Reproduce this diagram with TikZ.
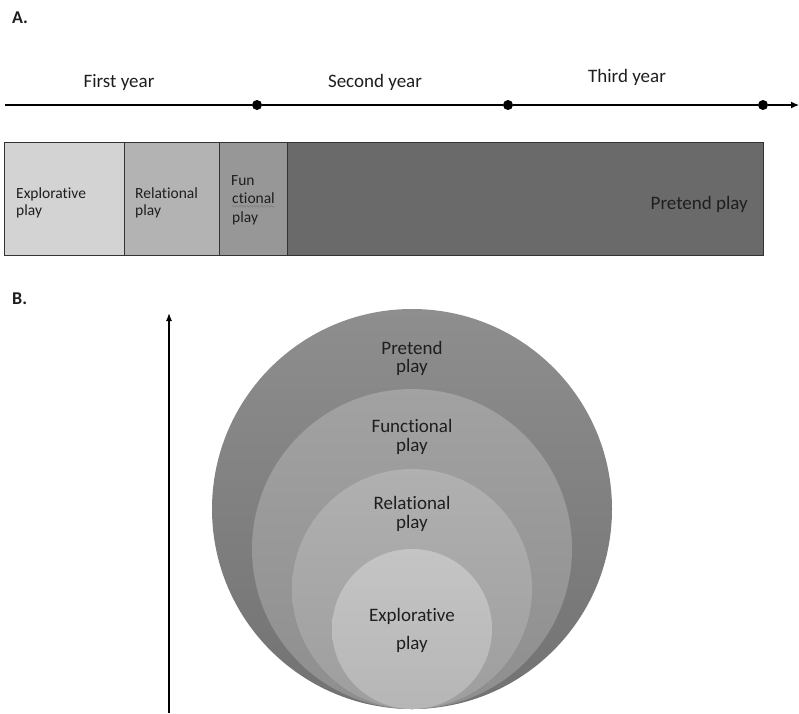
\documentclass[tikz,border=0pt]{standalone}
\usepackage{fontspec}
\setmainfont[Ligatures=NoCommon]{Carlito}
\usetikzlibrary{arrows.meta,decorations.pathmorphing}
\definecolor{textc}{HTML}{1E1E1E}
\definecolor{edgec}{HTML}{333333}
\definecolor{bxa}{HTML}{D3D3D3}
\definecolor{bxb}{HTML}{B3B3B3}
\definecolor{bxc}{HTML}{979797}
\definecolor{bxd}{HTML}{6A6A6A}
\definecolor{ra1}{HTML}{8E8E8E}
\definecolor{ra2}{HTML}{727272}
\definecolor{rb1}{HTML}{A2A2A2}
\definecolor{rb2}{HTML}{8E8E8E}
\definecolor{rc1}{HTML}{B0B0B0}
\definecolor{rc2}{HTML}{9E9E9E}
\definecolor{rd1}{HTML}{C4C4C4}
\definecolor{rd2}{HTML}{B6B6B6}
\begin{document}
\begin{tikzpicture}[x=1pt,y=-1pt,
  txt/.style={text=textc, inner sep=0pt, anchor=base west},
  lbl/.style={txt, font=\fontsize{19}{22}\selectfont},
  small/.style={txt, font=\fontsize{15.5}{18}\selectfont},
  heading/.style={txt, font=\bfseries\fontsize{18}{21}\selectfont},
  boxst/.style={draw=edgec, line width=1.3pt, anchor=north west, minimum height=113pt, inner sep=0pt},
  dot/.style={circle, fill=black, minimum size=10pt, inner sep=0pt},
  ring/.style={circle, inner sep=0pt, draw=none, shading angle=35},
  ctext/.style={txt, anchor=base, font=\fontsize{19}{22}\selectfont}]
\useasboundingbox (0,0) rectangle (799,713);
% headings
\node[heading] (A) at (12,23) {A.};
\node[heading] (B) at (12,304) {B.};
% timeline
\coordinate (t0) at (5,105);
\coordinate (tend) at (799,105);
\node[dot] (d1) at (257,105) {};
\node[dot] (d2) at (508,105) {};
\node[dot] (d3) at (763,105) {};
\draw[line width=1.2pt] (t0) -- (d1) -- (d2) -- (d3);
\draw[line width=1.2pt, -{Latex[length=8pt,width=7pt]}] (d3) -- (tend);
\node[lbl, anchor=base] (y1) at (119,87) {First year};
\node[lbl, anchor=base] (y2) at (375,87) {Second year};
\node[lbl, anchor=base] (y3) at (627,82) {Third year};
% boxes
\node[boxst, fill=bxa, minimum width=120pt] (b1) at (4,142) {};
\node[boxst, fill=bxb, minimum width=95pt] (b2) at (124,142) {};
\node[boxst, fill=bxc, minimum width=68pt] (b3) at (219,142) {};
\node[boxst, fill=bxd, minimum width=476pt] (b4) at (287,142) {};
\node[small] (l1a) at (16,198) {Explorative};
\node[small] (l1b) at (16,215) {play};
\node[small] (l2a) at (135,198) {Relational};
\node[small] (l2b) at (135,215) {play};
\node[small] (l3a) at (231,185) {Fun};
\node[small] (l3b) at (232,203) {ctional};
\node[small] (l3c) at (232,222) {play};
\draw[decorate, decoration={snake, amplitude=0.9pt, segment length=3.5pt}, color=gray, line width=0.6pt]
  ([yshift=-3pt]l3b.south west) -- ([yshift=-3pt]l3b.south east);
\node[lbl, anchor=base east] (l4) at (748,209) {Pretend play};
% vertical arrow
\coordinate (vb) at (169,713);
\coordinate (vt) at (169,313);
\draw[line width=1.2pt, -{Latex[length=8pt,width=6pt]}] (vb) -- (vt);
% circles
\node[ring, minimum size=400pt, top color=ra1, bottom color=ra2] (c1) at (412,509) {};
\node[ring, minimum size=320pt, top color=rb1, bottom color=rb2] (c2) at (412,549) {};
\node[ring, minimum size=240pt, top color=rc1, bottom color=rc2] (c3) at (412,589) {};
\node[ring, minimum size=160pt, top color=rd1, bottom color=rd2] (c4) at (412,629) {};
\node[ctext] (p1) at (412,354) {Pretend};
\node[ctext] (p2) at (412,372) {play};
\node[ctext] (f1) at (412,432) {Functional};
\node[ctext] (f2) at (412,451) {play};
\node[ctext] (r1) at (412,509) {Relational};
\node[ctext] (r2) at (412,528) {play};
\node[ctext] (e1) at (412,621) {Explorative};
\node[ctext] (e2) at (412,649) {play};
\end{tikzpicture}
\end{document}
